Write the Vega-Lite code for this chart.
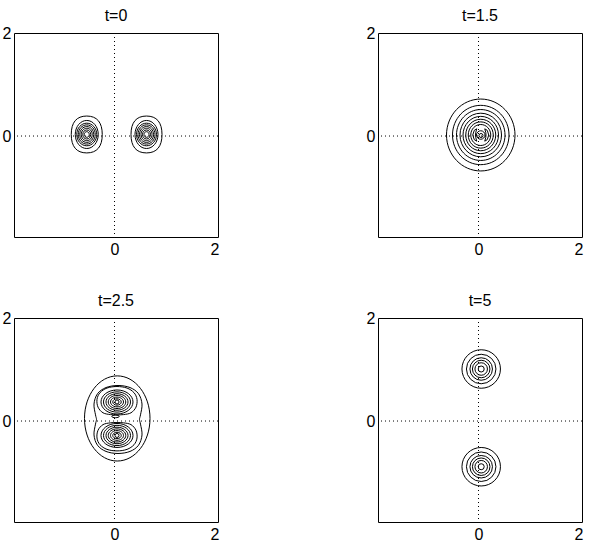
{
 "$schema": "https://vega.github.io/schema/vega-lite/v6.json",
 "padding": {"left": 1, "top": 7, "right": 5, "bottom": 2},
 "background": "white",
 "datasets": {
  "rings": [
   {"p":"t=0","x":-0.555,"y":0.03,"w":0.62,"f":"sq119"},
   {"p":"t=0","x":-0.555,"y":0.03,"w":0.46,"f":"e122"},
   {"p":"t=0","x":-0.555,"y":0.03,"w":0.40,"f":"e113"},
   {"p":"t=0","x":-0.555,"y":0.03,"w":0.34,"f":"e113"},
   {"p":"t=0","x":-0.555,"y":0.03,"w":0.28,"f":"e113"},
   {"p":"t=0","x":-0.555,"y":0.03,"w":0.22,"f":"e113"},
   {"p":"t=0","x":-0.555,"y":0.03,"w":0.16,"f":"e113"},
   {"p":"t=0","x":-0.555,"y":0.03,"w":0.10,"f":"e113"},
   {"p":"t=0","x":0.64,"y":0.03,"w":0.62,"f":"sq119"},
   {"p":"t=0","x":0.64,"y":0.03,"w":0.46,"f":"e122"},
   {"p":"t=0","x":0.64,"y":0.03,"w":0.40,"f":"e113"},
   {"p":"t=0","x":0.64,"y":0.03,"w":0.34,"f":"e113"},
   {"p":"t=0","x":0.64,"y":0.03,"w":0.28,"f":"e113"},
   {"p":"t=0","x":0.64,"y":0.03,"w":0.22,"f":"e113"},
   {"p":"t=0","x":0.64,"y":0.03,"w":0.16,"f":"e113"},
   {"p":"t=0","x":0.64,"y":0.03,"w":0.10,"f":"e113"},
   {"p":"t=1.5","x":0.045,"y":0.02,"w":1.37,"f":"e105"},
   {"p":"t=1.5","x":0.045,"y":0.02,"w":1.13,"f":"e105"},
   {"p":"t=1.5","x":0.045,"y":0.02,"w":0.97,"f":"e105"},
   {"p":"t=1.5","x":0.045,"y":0.02,"w":0.83,"f":"e105"},
   {"p":"t=1.5","x":0.045,"y":0.02,"w":0.71,"f":"e105"},
   {"p":"t=1.5","x":0.045,"y":0.02,"w":0.60,"f":"e105"},
   {"p":"t=1.5","x":0.045,"y":0.02,"w":0.50,"f":"e105"},
   {"p":"t=1.5","x":0.045,"y":0.02,"w":0.40,"f":"e105"},
   {"p":"t=1.5","x":0.045,"y":0.02,"w":0.17,"f":"c"},
   {"p":"t=1.5","x":0.05,"y":0.01,"w":0.08,"f":"c"},
   {"p":"t=2.5","x":0.055,"y":0.05,"w":1.31,"f":"e130"},
   {"p":"t=2.5","x":0.05,"y":0.37,"w":0.64,"f":"w75"},
   {"p":"t=2.5","x":0.05,"y":0.37,"w":0.54,"f":"w75"},
   {"p":"t=2.5","x":0.05,"y":0.37,"w":0.44,"f":"w75"},
   {"p":"t=2.5","x":0.05,"y":0.37,"w":0.35,"f":"w75"},
   {"p":"t=2.5","x":0.05,"y":0.37,"w":0.26,"f":"w75"},
   {"p":"t=2.5","x":0.05,"y":0.37,"w":0.17,"f":"w75"},
   {"p":"t=2.5","x":0.05,"y":0.37,"w":0.08,"f":"c"},
   {"p":"t=2.5","x":0.05,"y":-0.28,"w":0.64,"f":"w75"},
   {"p":"t=2.5","x":0.05,"y":-0.28,"w":0.54,"f":"w75"},
   {"p":"t=2.5","x":0.05,"y":-0.28,"w":0.44,"f":"w75"},
   {"p":"t=2.5","x":0.05,"y":-0.28,"w":0.35,"f":"w75"},
   {"p":"t=2.5","x":0.05,"y":-0.28,"w":0.26,"f":"w75"},
   {"p":"t=2.5","x":0.05,"y":-0.28,"w":0.17,"f":"w75"},
   {"p":"t=2.5","x":0.05,"y":-0.28,"w":0.08,"f":"c"},
   {"p":"t=2.5","x":0.02,"y":0.09,"w":0.15,"f":"w35"},
   {"p":"t=5","x":0.054,"y":1.01,"w":0.77,"f":"c"},
   {"p":"t=5","x":0.054,"y":1.01,"w":0.59,"f":"c"},
   {"p":"t=5","x":0.054,"y":1.01,"w":0.45,"f":"c"},
   {"p":"t=5","x":0.054,"y":1.01,"w":0.35,"f":"c"},
   {"p":"t=5","x":0.054,"y":1.01,"w":0.25,"f":"c"},
   {"p":"t=5","x":0.054,"y":1.01,"w":0.12,"f":"c"},
   {"p":"t=5","x":0.054,"y":-0.887,"w":0.77,"f":"c"},
   {"p":"t=5","x":0.054,"y":-0.887,"w":0.59,"f":"c"},
   {"p":"t=5","x":0.054,"y":-0.887,"w":0.45,"f":"c"},
   {"p":"t=5","x":0.054,"y":-0.887,"w":0.35,"f":"c"},
   {"p":"t=5","x":0.054,"y":-0.887,"w":0.25,"f":"c"},
   {"p":"t=5","x":0.054,"y":-0.887,"w":0.12,"f":"c"}
  ],
  "paths": [
   {"p":"t=1.5","c":"cl","i":0,"x":-0.035,"y":0.14},
   {"p":"t=1.5","c":"cl","i":1,"x":-0.085,"y":0.11},
   {"p":"t=1.5","c":"cl","i":2,"x":-0.115,"y":0.02},
   {"p":"t=1.5","c":"cl","i":3,"x":-0.085,"y":-0.07},
   {"p":"t=1.5","c":"cl","i":4,"x":-0.035,"y":-0.10},
   {"p":"t=1.5","c":"cl","i":5,"x":-0.055,"y":-0.03},
   {"p":"t=1.5","c":"cl","i":6,"x":-0.06,"y":0.02},
   {"p":"t=1.5","c":"cl","i":7,"x":-0.055,"y":0.07},
   {"p":"t=1.5","c":"cr","i":0,"x":0.125,"y":0.14},
   {"p":"t=1.5","c":"cr","i":1,"x":0.175,"y":0.11},
   {"p":"t=1.5","c":"cr","i":2,"x":0.205,"y":0.02},
   {"p":"t=1.5","c":"cr","i":3,"x":0.175,"y":-0.07},
   {"p":"t=1.5","c":"cr","i":4,"x":0.125,"y":-0.10},
   {"p":"t=1.5","c":"cr","i":5,"x":0.145,"y":-0.03},
   {"p":"t=1.5","c":"cr","i":6,"x":0.15,"y":0.02},
   {"p":"t=1.5","c":"cr","i":7,"x":0.145,"y":0.07},
   {"p":"t=2.5","c":"pea","i":0,"x":0.07,"y":0.69},
   {"p":"t=2.5","c":"pea","i":1,"x":0.31,"y":0.65},
   {"p":"t=2.5","c":"pea","i":2,"x":0.48,"y":0.53},
   {"p":"t=2.5","c":"pea","i":3,"x":0.55,"y":0.33},
   {"p":"t=2.5","c":"pea","i":4,"x":0.52,"y":0.12},
   {"p":"t=2.5","c":"pea","i":5,"x":0.50,"y":0.03},
   {"p":"t=2.5","c":"pea","i":6,"x":0.52,"y":-0.06},
   {"p":"t=2.5","c":"pea","i":7,"x":0.55,"y":-0.27},
   {"p":"t=2.5","c":"pea","i":8,"x":0.48,"y":-0.47},
   {"p":"t=2.5","c":"pea","i":9,"x":0.31,"y":-0.59},
   {"p":"t=2.5","c":"pea","i":10,"x":0.07,"y":-0.63},
   {"p":"t=2.5","c":"pea","i":11,"x":-0.17,"y":-0.59},
   {"p":"t=2.5","c":"pea","i":12,"x":-0.34,"y":-0.47},
   {"p":"t=2.5","c":"pea","i":13,"x":-0.41,"y":-0.27},
   {"p":"t=2.5","c":"pea","i":14,"x":-0.38,"y":-0.06},
   {"p":"t=2.5","c":"pea","i":15,"x":-0.36,"y":0.03},
   {"p":"t=2.5","c":"pea","i":16,"x":-0.38,"y":0.12},
   {"p":"t=2.5","c":"pea","i":17,"x":-0.41,"y":0.33},
   {"p":"t=2.5","c":"pea","i":18,"x":-0.34,"y":0.53},
   {"p":"t=2.5","c":"pea","i":19,"x":-0.17,"y":0.65},
   {"p":"t=2.5","c":"du","i":0,"x":0.05,"y":0.67},
   {"p":"t=2.5","c":"du","i":1,"x":0.25,"y":0.64},
   {"p":"t=2.5","c":"du","i":2,"x":0.39,"y":0.55},
   {"p":"t=2.5","c":"du","i":3,"x":0.45,"y":0.42},
   {"p":"t=2.5","c":"du","i":4,"x":0.43,"y":0.27},
   {"p":"t=2.5","c":"du","i":5,"x":0.33,"y":0.16},
   {"p":"t=2.5","c":"du","i":6,"x":0.18,"y":0.125},
   {"p":"t=2.5","c":"du","i":7,"x":0.05,"y":0.12},
   {"p":"t=2.5","c":"du","i":8,"x":-0.08,"y":0.125},
   {"p":"t=2.5","c":"du","i":9,"x":-0.23,"y":0.16},
   {"p":"t=2.5","c":"du","i":10,"x":-0.33,"y":0.27},
   {"p":"t=2.5","c":"du","i":11,"x":-0.35,"y":0.42},
   {"p":"t=2.5","c":"du","i":12,"x":-0.29,"y":0.55},
   {"p":"t=2.5","c":"du","i":13,"x":-0.15,"y":0.64},
   {"p":"t=2.5","c":"dl","i":0,"x":0.05,"y":-0.58},
   {"p":"t=2.5","c":"dl","i":1,"x":0.25,"y":-0.55},
   {"p":"t=2.5","c":"dl","i":2,"x":0.39,"y":-0.46},
   {"p":"t=2.5","c":"dl","i":3,"x":0.45,"y":-0.33},
   {"p":"t=2.5","c":"dl","i":4,"x":0.43,"y":-0.18},
   {"p":"t=2.5","c":"dl","i":5,"x":0.33,"y":-0.07},
   {"p":"t=2.5","c":"dl","i":6,"x":0.18,"y":-0.035},
   {"p":"t=2.5","c":"dl","i":7,"x":0.05,"y":-0.03},
   {"p":"t=2.5","c":"dl","i":8,"x":-0.08,"y":-0.035},
   {"p":"t=2.5","c":"dl","i":9,"x":-0.23,"y":-0.07},
   {"p":"t=2.5","c":"dl","i":10,"x":-0.33,"y":-0.18},
   {"p":"t=2.5","c":"dl","i":11,"x":-0.35,"y":-0.33},
   {"p":"t=2.5","c":"dl","i":12,"x":-0.29,"y":-0.46},
   {"p":"t=2.5","c":"dl","i":13,"x":-0.15,"y":-0.55}
  ]
 },
 "columns": 2,
 "spacing": {"row": 81, "column": 160},
 "bounds": "flush",
 "concat": [
  {
   "title": "t=0", "width": 204, "height": 204,
   "layer": [
    {"data": {"values": [{}]}, "mark": {"type": "rule", "strokeDash": [1, 3], "color": "#000", "strokeWidth": 1},
     "encoding": {"x": {"datum": 0, "type": "quantitative", "scale": {"domain": [-2.01, 2.07], "nice": false, "zero": false}, "axis": {"values": [0, 2], "title": null}}}},
    {"data": {"values": [{}]}, "mark": {"type": "rule", "strokeDash": [1, 3], "color": "#000", "strokeWidth": 1},
     "encoding": {"y": {"datum": 0, "type": "quantitative", "scale": {"domain": [-1.96, 2], "nice": false, "zero": false}, "axis": {"values": [0, 2], "title": null}}}},
    {"data": {"name": "rings"}, "transform": [{"filter": "datum.p === 't=0'"}],
     "mark": {"type": "point", "filled": false, "color": "#000", "strokeWidth": 1, "opacity": 1},
     "encoding": {
      "x": {"field": "x", "type": "quantitative", "scale": {"domain": [-2.01, 2.07], "nice": false, "zero": false}, "axis": {"values": [0, 2], "title": null}},
      "y": {"field": "y", "type": "quantitative", "scale": {"domain": [-1.96, 2], "nice": false, "zero": false}, "axis": {"values": [0, 2], "title": null}},
      "size": {"field": "w", "type": "quantitative", "scale": {"type": "pow", "exponent": 2, "domain": [0, 2], "range": [0, 10000]}, "legend": null},
      "shape": {"field": "f", "type": "nominal", "legend": null, "scale": {"domain": ["c", "e105", "e113", "e122", "sq119", "e130", "w75", "w35"], "range": ["circle", "M1,0C1,0.58 0.552,1.05 0,1.05C-0.552,1.05 -1,0.58 -1,0C-1,-0.58 -0.552,-1.05 0,-1.05C0.552,-1.05 1,-0.58 1,0Z", "M1,0C1,0.624 0.552,1.13 0,1.13C-0.552,1.13 -1,0.624 -1,0C-1,-0.624 -0.552,-1.13 0,-1.13C0.552,-1.13 1,-0.624 1,0Z", "M1,0C1,0.674 0.552,1.22 0,1.22C-0.552,1.22 -1,0.674 -1,0C-1,-0.674 -0.552,-1.22 0,-1.22C0.552,-1.22 1,-0.674 1,0Z", "M1,0C1,0.785 0.66,1.19 0,1.19C-0.66,1.19 -1,0.785 -1,0C-1,-0.785 -0.66,-1.19 0,-1.19C0.66,-1.19 1,-0.785 1,0Z", "M1,0C1,0.718 0.552,1.3 0,1.3C-0.552,1.3 -1,0.718 -1,0C-1,-0.718 -0.552,-1.3 0,-1.3C0.552,-1.3 1,-0.718 1,0Z", "M1,0C1,0.414 0.552,0.75 0,0.75C-0.552,0.75 -1,0.414 -1,0C-1,-0.414 -0.552,-0.75 0,-0.75C0.552,-0.75 1,-0.414 1,0Z", "M1,0C1,0.193 0.552,0.35 0,0.35C-0.552,0.35 -1,0.193 -1,0C-1,-0.193 -0.552,-0.35 0,-0.35C0.552,-0.35 1,-0.193 1,0Z"]}}
     }}
   ]
  },
  {
   "title": "t=1.5", "width": 204, "height": 204,
   "layer": [
    {"data": {"values": [{}]}, "mark": {"type": "rule", "strokeDash": [1, 3], "color": "#000", "strokeWidth": 1},
     "encoding": {"x": {"datum": 0, "type": "quantitative", "scale": {"domain": [-2.01, 2.07], "nice": false, "zero": false}, "axis": {"values": [0, 2], "title": null}}}},
    {"data": {"values": [{}]}, "mark": {"type": "rule", "strokeDash": [1, 3], "color": "#000", "strokeWidth": 1},
     "encoding": {"y": {"datum": 0, "type": "quantitative", "scale": {"domain": [-1.96, 2], "nice": false, "zero": false}, "axis": {"values": [0, 2], "title": null}}}},
    {"data": {"name": "rings"}, "transform": [{"filter": "datum.p === 't=1.5'"}],
     "mark": {"type": "point", "filled": false, "color": "#000", "strokeWidth": 1, "opacity": 1},
     "encoding": {
      "x": {"field": "x", "type": "quantitative", "scale": {"domain": [-2.01, 2.07], "nice": false, "zero": false}, "axis": {"values": [0, 2], "title": null}},
      "y": {"field": "y", "type": "quantitative", "scale": {"domain": [-1.96, 2], "nice": false, "zero": false}, "axis": {"values": [0, 2], "title": null}},
      "size": {"field": "w", "type": "quantitative", "scale": {"type": "pow", "exponent": 2, "domain": [0, 2], "range": [0, 10000]}, "legend": null},
      "shape": {"field": "f", "type": "nominal", "legend": null, "scale": {"domain": ["c", "e105", "e113", "e122", "sq119", "e130", "w75", "w35"], "range": ["circle", "M1,0C1,0.58 0.552,1.05 0,1.05C-0.552,1.05 -1,0.58 -1,0C-1,-0.58 -0.552,-1.05 0,-1.05C0.552,-1.05 1,-0.58 1,0Z", "M1,0C1,0.624 0.552,1.13 0,1.13C-0.552,1.13 -1,0.624 -1,0C-1,-0.624 -0.552,-1.13 0,-1.13C0.552,-1.13 1,-0.624 1,0Z", "M1,0C1,0.674 0.552,1.22 0,1.22C-0.552,1.22 -1,0.674 -1,0C-1,-0.674 -0.552,-1.22 0,-1.22C0.552,-1.22 1,-0.674 1,0Z", "M1,0C1,0.785 0.66,1.19 0,1.19C-0.66,1.19 -1,0.785 -1,0C-1,-0.785 -0.66,-1.19 0,-1.19C0.66,-1.19 1,-0.785 1,0Z", "M1,0C1,0.718 0.552,1.3 0,1.3C-0.552,1.3 -1,0.718 -1,0C-1,-0.718 -0.552,-1.3 0,-1.3C0.552,-1.3 1,-0.718 1,0Z", "M1,0C1,0.414 0.552,0.75 0,0.75C-0.552,0.75 -1,0.414 -1,0C-1,-0.414 -0.552,-0.75 0,-0.75C0.552,-0.75 1,-0.414 1,0Z", "M1,0C1,0.193 0.552,0.35 0,0.35C-0.552,0.35 -1,0.193 -1,0C-1,-0.193 -0.552,-0.35 0,-0.35C0.552,-0.35 1,-0.193 1,0Z"]}}
     }},
    {"data": {"name": "paths"}, "transform": [{"filter": "datum.p === 't=1.5'"}],
     "mark": {"type": "line", "interpolate": "linear-closed", "color": "#000", "strokeWidth": 1},
     "encoding": {
      "x": {"field": "x", "type": "quantitative", "scale": {"domain": [-2.01, 2.07], "nice": false, "zero": false}, "axis": {"values": [0, 2], "title": null}},
      "y": {"field": "y", "type": "quantitative", "scale": {"domain": [-1.96, 2], "nice": false, "zero": false}, "axis": {"values": [0, 2], "title": null}},
      "detail": {"field": "c"},
      "order": {"field": "i", "type": "quantitative"}
     }}
   ]
  },
  {
   "title": "t=2.5", "width": 204, "height": 204,
   "layer": [
    {"data": {"values": [{}]}, "mark": {"type": "rule", "strokeDash": [1, 3], "color": "#000", "strokeWidth": 1},
     "encoding": {"x": {"datum": 0, "type": "quantitative", "scale": {"domain": [-2.01, 2.07], "nice": false, "zero": false}, "axis": {"values": [0, 2], "title": null}}}},
    {"data": {"values": [{}]}, "mark": {"type": "rule", "strokeDash": [1, 3], "color": "#000", "strokeWidth": 1},
     "encoding": {"y": {"datum": 0, "type": "quantitative", "scale": {"domain": [-1.96, 2], "nice": false, "zero": false}, "axis": {"values": [0, 2], "title": null}}}},
    {"data": {"name": "rings"}, "transform": [{"filter": "datum.p === 't=2.5'"}],
     "mark": {"type": "point", "filled": false, "color": "#000", "strokeWidth": 1, "opacity": 1},
     "encoding": {
      "x": {"field": "x", "type": "quantitative", "scale": {"domain": [-2.01, 2.07], "nice": false, "zero": false}, "axis": {"values": [0, 2], "title": null}},
      "y": {"field": "y", "type": "quantitative", "scale": {"domain": [-1.96, 2], "nice": false, "zero": false}, "axis": {"values": [0, 2], "title": null}},
      "size": {"field": "w", "type": "quantitative", "scale": {"type": "pow", "exponent": 2, "domain": [0, 2], "range": [0, 10000]}, "legend": null},
      "shape": {"field": "f", "type": "nominal", "legend": null, "scale": {"domain": ["c", "e105", "e113", "e122", "sq119", "e130", "w75", "w35"], "range": ["circle", "M1,0C1,0.58 0.552,1.05 0,1.05C-0.552,1.05 -1,0.58 -1,0C-1,-0.58 -0.552,-1.05 0,-1.05C0.552,-1.05 1,-0.58 1,0Z", "M1,0C1,0.624 0.552,1.13 0,1.13C-0.552,1.13 -1,0.624 -1,0C-1,-0.624 -0.552,-1.13 0,-1.13C0.552,-1.13 1,-0.624 1,0Z", "M1,0C1,0.674 0.552,1.22 0,1.22C-0.552,1.22 -1,0.674 -1,0C-1,-0.674 -0.552,-1.22 0,-1.22C0.552,-1.22 1,-0.674 1,0Z", "M1,0C1,0.785 0.66,1.19 0,1.19C-0.66,1.19 -1,0.785 -1,0C-1,-0.785 -0.66,-1.19 0,-1.19C0.66,-1.19 1,-0.785 1,0Z", "M1,0C1,0.718 0.552,1.3 0,1.3C-0.552,1.3 -1,0.718 -1,0C-1,-0.718 -0.552,-1.3 0,-1.3C0.552,-1.3 1,-0.718 1,0Z", "M1,0C1,0.414 0.552,0.75 0,0.75C-0.552,0.75 -1,0.414 -1,0C-1,-0.414 -0.552,-0.75 0,-0.75C0.552,-0.75 1,-0.414 1,0Z", "M1,0C1,0.193 0.552,0.35 0,0.35C-0.552,0.35 -1,0.193 -1,0C-1,-0.193 -0.552,-0.35 0,-0.35C0.552,-0.35 1,-0.193 1,0Z"]}}
     }},
    {"data": {"name": "paths"}, "transform": [{"filter": "datum.p === 't=2.5'"}],
     "mark": {"type": "line", "interpolate": "cardinal-closed", "color": "#000", "strokeWidth": 1},
     "encoding": {
      "x": {"field": "x", "type": "quantitative", "scale": {"domain": [-2.01, 2.07], "nice": false, "zero": false}, "axis": {"values": [0, 2], "title": null}},
      "y": {"field": "y", "type": "quantitative", "scale": {"domain": [-1.96, 2], "nice": false, "zero": false}, "axis": {"values": [0, 2], "title": null}},
      "detail": {"field": "c"},
      "order": {"field": "i", "type": "quantitative"}
     }}
   ]
  },
  {
   "title": "t=5", "width": 204, "height": 204,
   "layer": [
    {"data": {"values": [{}]}, "mark": {"type": "rule", "strokeDash": [1, 3], "color": "#000", "strokeWidth": 1},
     "encoding": {"x": {"datum": 0, "type": "quantitative", "scale": {"domain": [-2.01, 2.07], "nice": false, "zero": false}, "axis": {"values": [0, 2], "title": null}}}},
    {"data": {"values": [{}]}, "mark": {"type": "rule", "strokeDash": [1, 3], "color": "#000", "strokeWidth": 1},
     "encoding": {"y": {"datum": 0, "type": "quantitative", "scale": {"domain": [-1.96, 2], "nice": false, "zero": false}, "axis": {"values": [0, 2], "title": null}}}},
    {"data": {"name": "rings"}, "transform": [{"filter": "datum.p === 't=5'"}],
     "mark": {"type": "point", "filled": false, "color": "#000", "strokeWidth": 1, "opacity": 1},
     "encoding": {
      "x": {"field": "x", "type": "quantitative", "scale": {"domain": [-2.01, 2.07], "nice": false, "zero": false}, "axis": {"values": [0, 2], "title": null}},
      "y": {"field": "y", "type": "quantitative", "scale": {"domain": [-1.96, 2], "nice": false, "zero": false}, "axis": {"values": [0, 2], "title": null}},
      "size": {"field": "w", "type": "quantitative", "scale": {"type": "pow", "exponent": 2, "domain": [0, 2], "range": [0, 10000]}, "legend": null},
      "shape": {"field": "f", "type": "nominal", "legend": null, "scale": {"domain": ["c", "e105", "e113", "e122", "sq119", "e130", "w75", "w35"], "range": ["circle", "M1,0C1,0.58 0.552,1.05 0,1.05C-0.552,1.05 -1,0.58 -1,0C-1,-0.58 -0.552,-1.05 0,-1.05C0.552,-1.05 1,-0.58 1,0Z", "M1,0C1,0.624 0.552,1.13 0,1.13C-0.552,1.13 -1,0.624 -1,0C-1,-0.624 -0.552,-1.13 0,-1.13C0.552,-1.13 1,-0.624 1,0Z", "M1,0C1,0.674 0.552,1.22 0,1.22C-0.552,1.22 -1,0.674 -1,0C-1,-0.674 -0.552,-1.22 0,-1.22C0.552,-1.22 1,-0.674 1,0Z", "M1,0C1,0.785 0.66,1.19 0,1.19C-0.66,1.19 -1,0.785 -1,0C-1,-0.785 -0.66,-1.19 0,-1.19C0.66,-1.19 1,-0.785 1,0Z", "M1,0C1,0.718 0.552,1.3 0,1.3C-0.552,1.3 -1,0.718 -1,0C-1,-0.718 -0.552,-1.3 0,-1.3C0.552,-1.3 1,-0.718 1,0Z", "M1,0C1,0.414 0.552,0.75 0,0.75C-0.552,0.75 -1,0.414 -1,0C-1,-0.414 -0.552,-0.75 0,-0.75C0.552,-0.75 1,-0.414 1,0Z", "M1,0C1,0.193 0.552,0.35 0,0.35C-0.552,0.35 -1,0.193 -1,0C-1,-0.193 -0.552,-0.35 0,-0.35C0.552,-0.35 1,-0.193 1,0Z"]}}
     }}
   ]
  }
 ],
 "config": {
  "view": {"stroke": "#000", "strokeWidth": 1},
  "font": "Liberation Sans",
  "axis": {"grid": false, "domain": false, "ticks": false, "tickSize": 0, "labelFlush": false, "labelBound": false, "labelFontSize": 16, "labelColor": "#000", "labelFont": "Liberation Sans"},
  "axisX": {"labelPadding": 4},
  "axisY": {"labelPadding": 3},
  "title": {"fontSize": 16, "fontWeight": "normal", "color": "#000", "offset": 1, "font": "Liberation Sans", "anchor": "middle"}
 }
}
